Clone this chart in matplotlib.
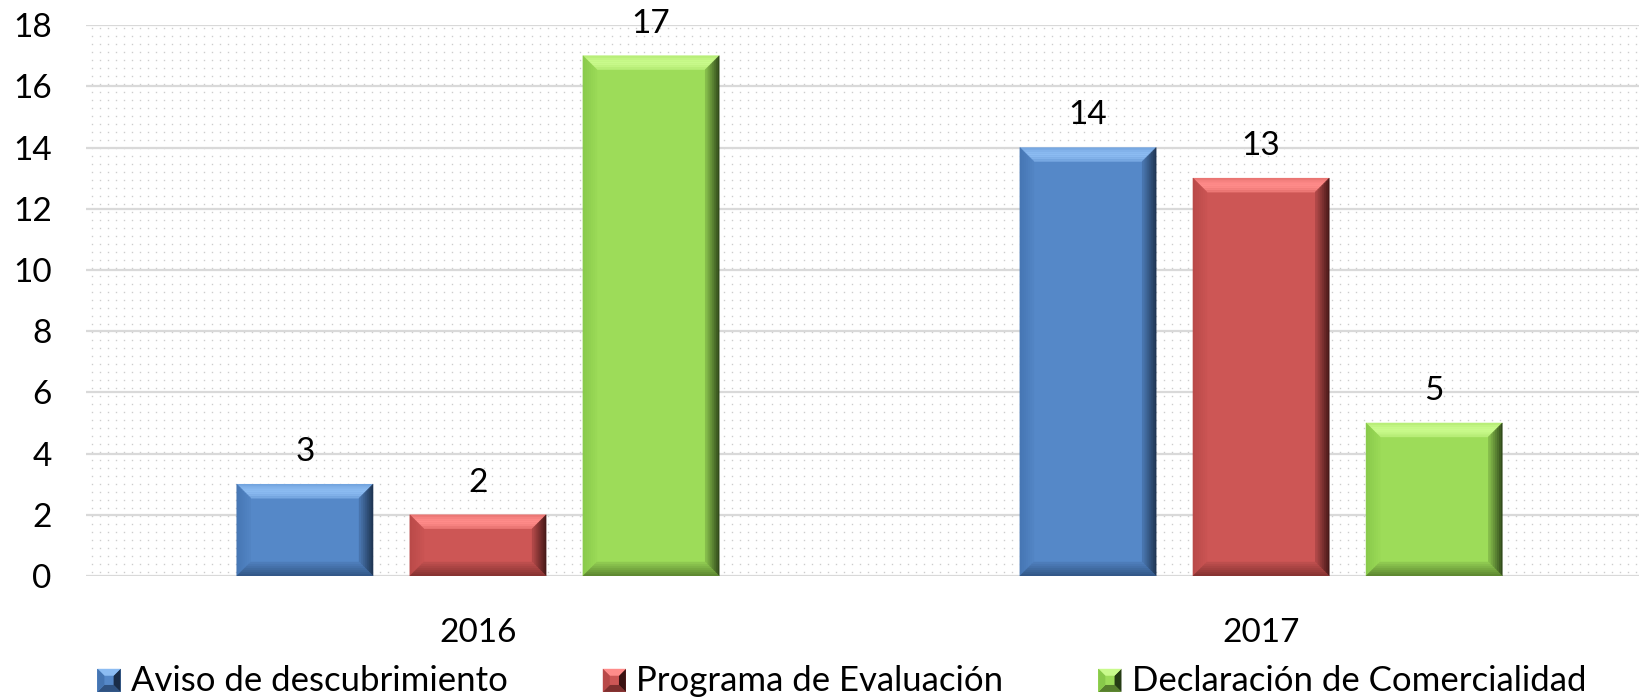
import numpy as np
from matplotlib import pyplot as plt
from matplotlib.patches import Polygon, Rectangle
from matplotlib.colors import to_rgb
from matplotlib.legend_handler import HandlerBase

years = ['2016', '2017']
series = ['Aviso de descubrimiento', 'Programa de Evaluación', 'Declaración de Comercialidad']
aviso = [3, 14]
programa = [2, 13]
declaracion = [17, 5]

# face, top bevel, left bevel, right bevel, bottom bevel
PALETTE = {
    'Aviso de descubrimiento': ('#5588c8', '#8cbcf2', '#4575b2', '#1a2d48', '#2f5281'),
    'Programa de Evaluación': ('#cd5655', '#ff8c8a', '#b84948', '#3a1212', '#7f2f2e'),
    'Declaración de Comercialidad': ('#9ddc59', '#c9fa8c', '#88c94a', '#263c14', '#577f2d'),
}

plt.rcParams['font.family'] = ['Lato', 'DejaVu Sans']

fig = plt.figure(figsize=(16.4, 6.97), dpi=100)
AX_L, AX_B, AX_W, AX_H = 0.0527, 0.1736, 0.955, 0.7904
ax = fig.add_axes([AX_L, AX_B, AX_W, AX_H])

ax.set_xlim(-0.5, 1.5)
ax.set_ylim(0, 18)

# dotted background texture + major gridlines
px_x = 2.0 / (AX_W * 1640)
px_y = 18.0 / (AX_H * 697)
gx = np.arange(-0.5 + 6 * px_x, 1.5, 8 * px_x)
gy = np.arange(4 * px_y, 18, 8 * px_y)
GX, GY = np.meshgrid(gx, gy)
ax.plot(GX.ravel(), GY.ravel(), ls='none', marker='s', ms=1.0, mew=0,
        color='#cdcdcd', zorder=0)
ax.set_yticks(np.arange(0, 19, 2))
ax.yaxis.grid(True, color='#d9d9d9', lw=1.6, zorder=0.5)
ax.set_axisbelow(True)
for s in ax.spines.values():
    s.set_visible(False)
ax.tick_params(length=0, labelsize=24)
ax.tick_params(axis='y', pad=25)
ax.tick_params(axis='x', pad=30)

index = np.arange(len(years))
bar_width = 0.174
step = 0.221
BEV = 14
N_STRIPS = 7


def mix(c1, c2, t):
    a, b = np.array(to_rgb(c1)), np.array(to_rgb(c2))
    return tuple(a + (b - a) * t)


def bevel_bar(x, h, cols):
    face, top, left, right, bottom = cols
    x0, x1 = x - bar_width / 2, x + bar_width / 2
    bx = BEV * px_x
    by = min(BEV * px_y, h / 3)
    for i in range(N_STRIPS):
        t0, t1 = i / N_STRIPS, (i + 1) / N_STRIPS
        ox0, ox1 = x0 + bx * t0, x1 - bx * t0
        oy0, oy1 = by * t0, h - by * t0
        ix0, ix1 = x0 + bx * t1, x1 - bx * t1
        iy0, iy1 = by * t1, h - by * t1
        k = 0.1 + 0.8 * t0
        # top bevel: brightest in the middle of the band
        kt = 0.5 - 0.5 * np.sin(np.pi * (t0 + 0.5 / N_STRIPS))
        quads = [
            ([(ox0, oy1), (ox1, oy1), (ix1, iy1), (ix0, iy1)], mix(top, face, kt)),
            ([(ox0, oy0), (ox0, oy1), (ix0, iy1), (ix0, iy0)], mix(left, face, k)),
            ([(ox1, oy0), (ox1, oy1), (ix1, iy1), (ix1, iy0)], mix(right, face, k)),
            ([(ox0, oy0), (ox1, oy0), (ix1, iy0), (ix0, iy0)], mix(bottom, face, k)),
        ]
        for pts, c in quads:
            ax.add_patch(Polygon(pts, closed=True, fc=c, ec=c, lw=0.3, zorder=3))


for k, (name, vals) in enumerate(zip(series, [aviso, programa, declaracion])):
    pos = index + (k - 1) * step
    ax.bar(pos, vals, bar_width, color=PALETTE[name][0], zorder=2, label=name)
    for p, v in zip(pos, vals):
        bevel_bar(p, v, PALETTE[name])
        ax.text(p, v + 1.05, str(v), ha='center', va='center', fontsize=24)

ax.set_xticks(index)
ax.set_xticklabels(years)


class BevelHandler(HandlerBase):
    def create_artists(self, legend, orig_handle, xdescent, ydescent, width, height,
                       fontsize, trans):
        cols = PALETTE[orig_handle.get_label()]
        s = height * 0.95
        x0 = xdescent + width - s
        y0 = -ydescent + (height - s) / 2 - 1
        b = s * 0.3
        arts = [Rectangle((x0, y0), s, s, fc=cols[0], ec='none', transform=trans)]
        pts = [(x0, y0), (x0 + s, y0), (x0 + s, y0 + s), (x0, y0 + s)]
        inner = [(x0 + b, y0 + b), (x0 + s - b, y0 + b), (x0 + s - b, y0 + s - b), (x0 + b, y0 + s - b)]
        sides = [(0, 1, cols[4]), (1, 2, cols[3]), (2, 3, cols[1]), (3, 0, cols[2])]
        for i, j, c in sides:
            arts.append(Polygon([pts[i], pts[j], inner[j], inner[i]], closed=True,
                                fc=c, ec='none', transform=trans))
        return arts


handles = [Rectangle((0, 0), 1, 1, label=n) for n in series]
fig.legend(handles, series, handler_map={Rectangle: BevelHandler()}, loc='lower center',
           bbox_to_anchor=(0.513, -0.045), ncol=3, frameon=False, fontsize=25,
           handlelength=0.7, handletextpad=0.3, columnspacing=2.7)

plt.savefig('out.png', dpi=100)
